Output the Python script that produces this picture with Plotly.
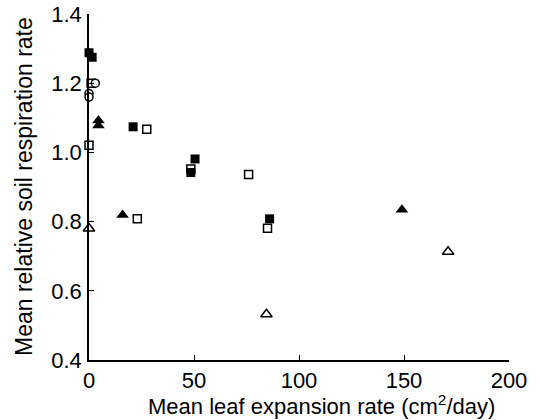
import plotly.graph_objects as go

# Data
filled_sq_x = [0, 1.5, 21, 50.5, 48.5, 86]
filled_sq_y = [1.288, 1.275, 1.074, 0.981, 0.942, 0.808]
open_sq_x = [1, 0, 27.5, 48.5, 76, 23, 85]
open_sq_y = [1.200, 1.021, 1.067, 0.952, 0.936, 0.808, 0.781]
filled_tri_x = [4.5, 4.5, 16, 149]
filled_tri_y = [1.092, 1.078, 0.819, 0.834]
open_tri_x = [0, 84.5, 171]
open_tri_y = [0.780, 0.532, 0.713]
open_circ_x = [3, 0, 0]
open_circ_y = [1.200, 1.170, 1.160]

x_ticks = [0, 50, 100, 150, 200]
y_ticks = [0.4, 0.6, 0.8, 1.0, 1.2, 1.4]
y_tick_labels = ["0.4", "0.6", "0.8", "1.0", "1.2", "1.4"]

x_title = "Mean leaf expansion rate (cm<sup>2</sup>/day)"
y_title = "Mean relative soil respiration rate"

fig = go.Figure()

def add(x, y, symbol, size, fill):
    fig.add_trace(go.Scatter(
        x=x, y=y, mode="markers", cliponaxis=False, showlegend=False,
        hoverinfo="skip",
        marker=dict(symbol=symbol, size=size,
                    color="black" if fill else "white",
                    line=dict(color="black", width=1.5 if not fill else 0)),
    ))

add(open_sq_x, open_sq_y, "square", 8, False)
add(filled_sq_x, filled_sq_y, "square", 9, True)
add(filled_tri_x, filled_tri_y, "triangle-up", 11, True)
add(open_tri_x, open_tri_y, "triangle-up", 10, False)
add(open_circ_x, open_circ_y, "circle", 8, False)

FAM = "Liberation Sans, Arial, sans-serif"
font = dict(family=FAM, size=22, color="black")

fig.update_layout(
    width=539, height=420,
    margin=dict(l=89, r=30, t=14, b=60),
    paper_bgcolor="white", plot_bgcolor="white",
    font=font,
    xaxis=dict(range=[0, 200], tickvals=x_ticks, ticks="inside", ticklen=5,
               tickwidth=1.2, tickcolor="black", showline=True, linecolor="black",
               linewidth=1.5, showgrid=False, zeroline=False, automargin=False,
               tickfont=dict(size=22)),
    yaxis=dict(range=[0.4, 1.4], tickvals=y_ticks, ticktext=y_tick_labels,
               ticks="inside", ticklen=5, tickwidth=1.2, tickcolor="black",
               showline=True, linecolor="black", linewidth=1.5,
               showgrid=False, zeroline=False, ticklabelstandoff=1,
               automargin=False, tickfont=dict(size=22)),
    annotations=[
        dict(text=x_title, xref="paper", yref="paper", x=0.5, y=0,
             xanchor="center", yanchor="middle", xshift=22, yshift=-45,
             showarrow=False, font=dict(family=FAM, size=22, color="black")),
        dict(text=y_title, xref="paper", yref="paper", x=0, y=0.5,
             xanchor="center", yanchor="middle", xshift=-65, textangle=-90,
             showarrow=False, font=dict(family=FAM, size=23, color="black")),
    ],
)

fig.write_html("out.html",
               config={"displayModeBar": False},
               post_script="document.body.style.margin='0px';document.body.style.overflow='hidden';")
